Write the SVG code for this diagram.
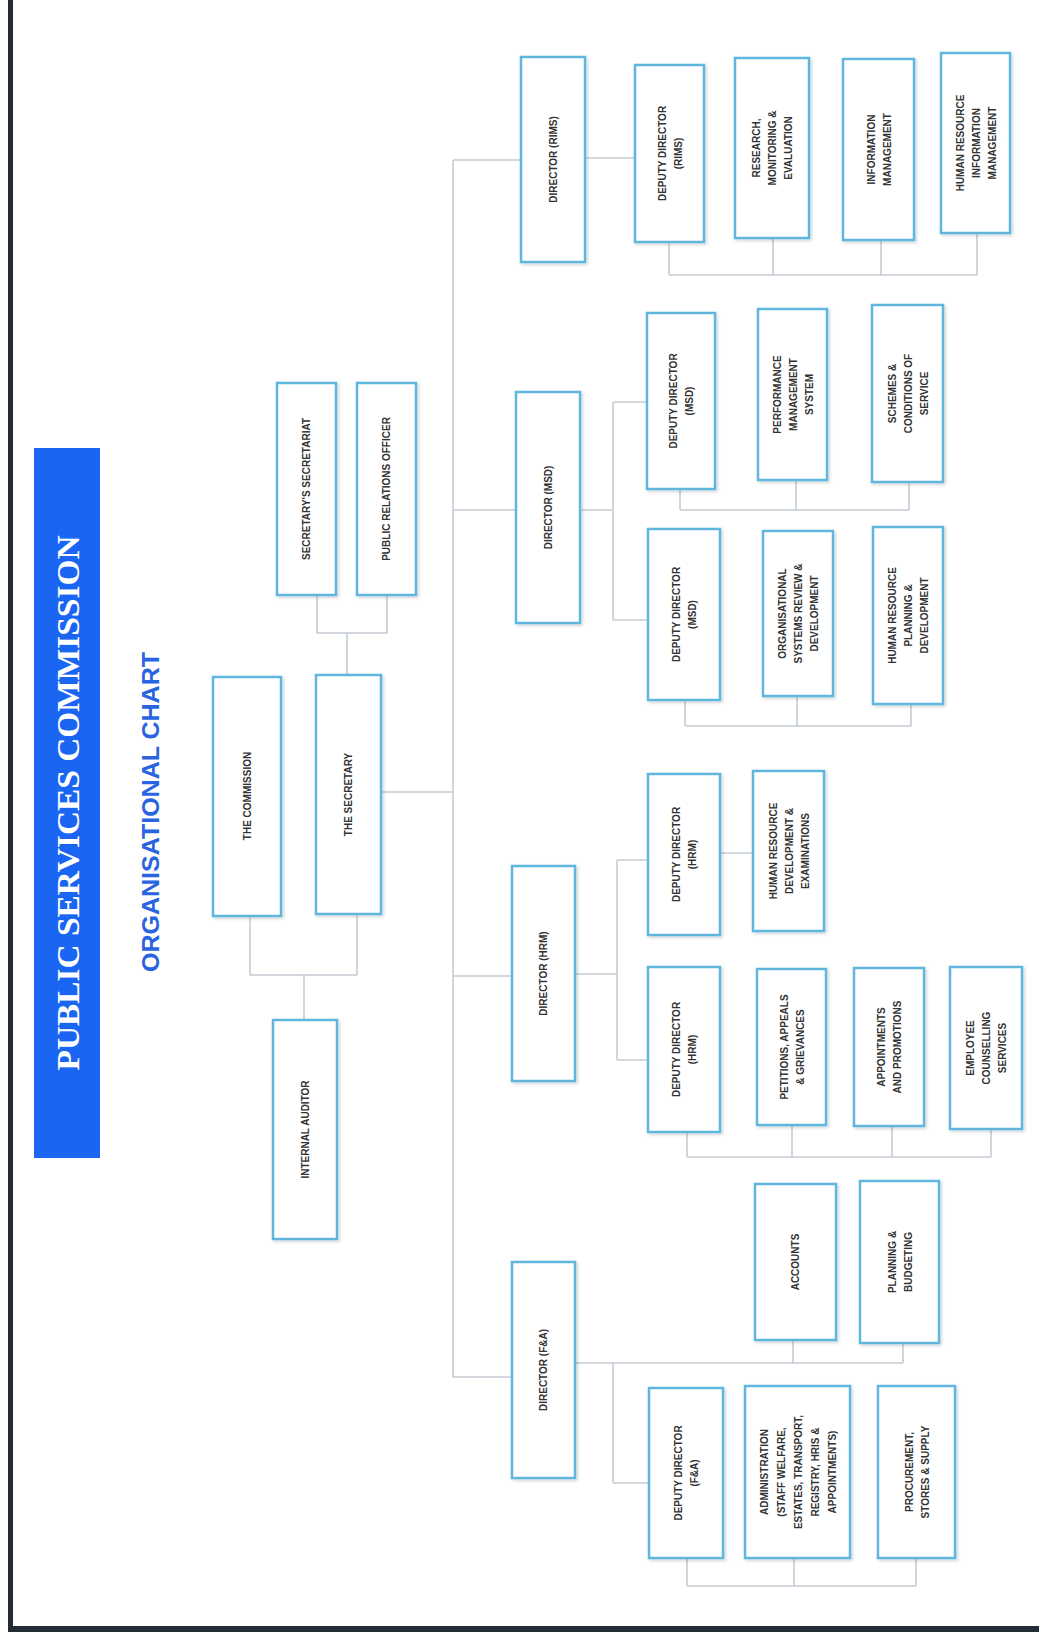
<svg xmlns="http://www.w3.org/2000/svg" width="1039" height="1632" viewBox="0 0 1039 1632">
<style>
.box{fill:#ffffff;stroke:#5fb6de;stroke-width:2.5;filter:url(#sh)}
.lbl{font-family:"Liberation Sans",Arial,sans-serif;font-size:10px;font-weight:bold;fill:#333333;text-anchor:middle;dominant-baseline:central}
.con{fill:none;stroke:#c4ccd4;stroke-width:1.6}
.frame{fill:#222b36}
</style>
<defs>
<filter id="sh" x="-10%" y="-10%" width="130%" height="130%">
<feDropShadow dx="1.5" dy="1.5" stdDeviation="1.5" flood-color="#000" flood-opacity="0.18"/>
</filter>
</defs>
<rect x="0" y="0" width="1039" height="1632" fill="#ffffff"/>
<rect class="frame" x="8" y="0" width="5" height="1632"/>
<rect class="frame" x="8" y="1626" width="1031" height="6"/>

<g id="title">
<rect x="34" y="448" width="66" height="710" fill="#1a66f2"/>
<text transform="translate(68,803) rotate(-90)" font-family="Liberation Serif,serif" font-weight="bold" font-size="32" fill="#ffffff" text-anchor="middle" dominant-baseline="central" textLength="535" lengthAdjust="spacingAndGlyphs">PUBLIC SERVICES COMMISSION</text>
</g>
<g id="subtitle">
<text transform="translate(150,812) rotate(-90)" font-family="Liberation Sans,Arial,sans-serif" font-weight="bold" font-size="24" fill="#2a64e0" text-anchor="middle" dominant-baseline="central" textLength="320" lengthAdjust="spacingAndGlyphs">ORGANISATIONAL CHART</text>
</g>

<g id="connectors">
<path class="con" d="M317 595V633M387 595V633M317 633H387M347 633V675"/>
<path class="con" d="M250 916V975M357 914V975M250 975H357M304 975V1020"/>
<path class="con" d="M381 792H453M453 160V1377"/>
<path class="con" d="M453 160H521M585 158H635"/>
<path class="con" d="M669 242V275M773 238V275M881 240V275M977 233V275M669 275H977"/>
<path class="con" d="M453 510H516M580 510H613M613 402V620M613 402H647M613 620H648"/>
<path class="con" d="M680 489V510M796 480V510M909 482V510M680 510H909"/>
<path class="con" d="M685 700V726M797 696V726M911 704V726M685 726H911"/>
<path class="con" d="M453 976H512M575 974H617M617 860V1060M617 860H648M617 1060H648M720 853H753"/>
<path class="con" d="M687 1132V1157M792 1125V1157M892 1126V1157M991 1129V1157M687 1157H991"/>
<path class="con" d="M453 1377H512M575 1363H903M793 1340V1363M903 1343V1363M613 1363V1483M613 1483H649"/>
<path class="con" d="M687 1558V1586M794 1558V1586M916 1558V1586M687 1586H916"/>
</g>

<g id="commission"><rect class="box" x="213" y="677" width="68" height="239"/>
<text class="lbl" transform="translate(247,796) rotate(-90)">THE COMMISSION</text></g>
<g id="secretary"><rect class="box" x="316" y="675" width="65" height="239"/>
<text class="lbl" transform="translate(348.5,794.5) rotate(-90)">THE SECRETARY</text></g>
<g id="auditor"><rect class="box" x="273" y="1020" width="64" height="219"/>
<text class="lbl" transform="translate(305,1129.5) rotate(-90)">INTERNAL AUDITOR</text></g>
<g id="secretariat"><rect class="box" x="277" y="383" width="59" height="212"/>
<text class="lbl" font-size="9.5" transform="translate(306.5,489) rotate(-90)">SECRETARY'S SECRETARIAT</text></g>
<g id="pro"><rect class="box" x="357" y="383" width="59" height="212"/>
<text class="lbl" font-size="9.5" transform="translate(386.5,489) rotate(-90)">PUBLIC RELATIONS OFFICER</text></g>

<g id="dir-rims"><rect class="box" x="521" y="57" width="64" height="205"/>
<text class="lbl" transform="translate(553,159.5) rotate(-90)">DIRECTOR (RIMS)</text></g>
<g id="dd-rims"><rect class="box" x="635" y="65" width="69" height="177"/>
<text class="lbl" transform="translate(669.5,153.5) rotate(-90)"><tspan x="0" y="-8">DEPUTY DIRECTOR</tspan><tspan x="0" y="8">(RIMS)</tspan></text></g>
<g id="research"><rect class="box" x="735" y="58" width="74" height="180"/>
<text class="lbl" transform="translate(772,148) rotate(-90)"><tspan x="0" y="-16">RESEARCH,</tspan><tspan x="0" y="0">MONITORING &amp;</tspan><tspan x="0" y="16">EVALUATION</tspan></text></g>
<g id="info-mgmt"><rect class="box" x="843" y="59" width="71" height="181"/>
<text class="lbl" transform="translate(878.5,149.5) rotate(-90)"><tspan x="0" y="-8">INFORMATION</tspan><tspan x="0" y="8">MANAGEMENT</tspan></text></g>
<g id="hrim"><rect class="box" x="941" y="53" width="69" height="180"/>
<text class="lbl" transform="translate(975.5,143) rotate(-90)"><tspan x="0" y="-16">HUMAN RESOURCE</tspan><tspan x="0" y="0">INFORMATION</tspan><tspan x="0" y="16">MANAGEMENT</tspan></text></g>

<g id="dir-msd"><rect class="box" x="516" y="392" width="64" height="231"/>
<text class="lbl" transform="translate(548,507.5) rotate(-90)">DIRECTOR (MSD)</text></g>
<g id="dd-msd-1"><rect class="box" x="647" y="313" width="68" height="176"/>
<text class="lbl" transform="translate(681,401) rotate(-90)"><tspan x="0" y="-8">DEPUTY DIRECTOR</tspan><tspan x="0" y="8">(MSD)</tspan></text></g>
<g id="performance"><rect class="box" x="758" y="309" width="69" height="171"/>
<text class="lbl" transform="translate(792.5,394.5) rotate(-90)"><tspan x="0" y="-16">PERFORMANCE</tspan><tspan x="0" y="0">MANAGEMENT</tspan><tspan x="0" y="16">SYSTEM</tspan></text></g>
<g id="schemes"><rect class="box" x="872" y="305" width="71" height="177"/>
<text class="lbl" transform="translate(907.5,393.5) rotate(-90)"><tspan x="0" y="-16">SCHEMES &amp;</tspan><tspan x="0" y="0">CONDITIONS OF</tspan><tspan x="0" y="16">SERVICE</tspan></text></g>
<g id="dd-msd-2"><rect class="box" x="648" y="529" width="72" height="171"/>
<text class="lbl" transform="translate(684,614.5) rotate(-90)"><tspan x="0" y="-8">DEPUTY DIRECTOR</tspan><tspan x="0" y="8">(MSD)</tspan></text></g>
<g id="osrd"><rect class="box" x="763" y="531" width="70" height="165"/>
<text class="lbl" transform="translate(798,613.5) rotate(-90)"><tspan x="0" y="-16">ORGANISATIONAL</tspan><tspan x="0" y="0">SYSTEMS REVIEW &amp;</tspan><tspan x="0" y="16">DEVELOPMENT</tspan></text></g>
<g id="hrpd"><rect class="box" x="873" y="527" width="70" height="177"/>
<text class="lbl" transform="translate(908,615.5) rotate(-90)"><tspan x="0" y="-16">HUMAN RESOURCE</tspan><tspan x="0" y="0">PLANNING &amp;</tspan><tspan x="0" y="16">DEVELOPMENT</tspan></text></g>

<g id="dir-hrm"><rect class="box" x="512" y="866" width="63" height="215"/>
<text class="lbl" transform="translate(543.5,973.5) rotate(-90)">DIRECTOR (HRM)</text></g>
<g id="dd-hrm-1"><rect class="box" x="648" y="774" width="72" height="161"/>
<text class="lbl" transform="translate(684,854.5) rotate(-90)"><tspan x="0" y="-8">DEPUTY DIRECTOR</tspan><tspan x="0" y="8">(HRM)</tspan></text></g>
<g id="hrde"><rect class="box" x="753" y="771" width="71" height="160"/>
<text class="lbl" transform="translate(788.5,851) rotate(-90)"><tspan x="0" y="-16">HUMAN RESOURCE</tspan><tspan x="0" y="0">DEVELOPMENT &amp;</tspan><tspan x="0" y="16">EXAMINATIONS</tspan></text></g>
<g id="dd-hrm-2"><rect class="box" x="648" y="967" width="72" height="165"/>
<text class="lbl" transform="translate(684,1049.5) rotate(-90)"><tspan x="0" y="-8">DEPUTY DIRECTOR</tspan><tspan x="0" y="8">(HRM)</tspan></text></g>
<g id="petitions"><rect class="box" x="757" y="969" width="69" height="156"/>
<text class="lbl" transform="translate(791.5,1047) rotate(-90)"><tspan x="0" y="-8">PETITIONS, APPEALS</tspan><tspan x="0" y="8">&amp; GRIEVANCES</tspan></text></g>
<g id="appointments"><rect class="box" x="854" y="968" width="70" height="158"/>
<text class="lbl" transform="translate(889,1047) rotate(-90)"><tspan x="0" y="-8">APPOINTMENTS</tspan><tspan x="0" y="8">AND PROMOTIONS</tspan></text></g>
<g id="counselling"><rect class="box" x="950" y="967" width="72" height="162"/>
<text class="lbl" transform="translate(986,1048) rotate(-90)"><tspan x="0" y="-16">EMPLOYEE</tspan><tspan x="0" y="0">COUNSELLING</tspan><tspan x="0" y="16">SERVICES</tspan></text></g>

<g id="dir-fa"><rect class="box" x="512" y="1262" width="63" height="216"/>
<text class="lbl" transform="translate(543.5,1370) rotate(-90)">DIRECTOR (F&amp;A)</text></g>
<g id="accounts"><rect class="box" x="755" y="1184" width="81" height="156"/>
<text class="lbl" transform="translate(795.5,1262) rotate(-90)">ACCOUNTS</text></g>
<g id="planning"><rect class="box" x="860" y="1181" width="79" height="162"/>
<text class="lbl" transform="translate(899.5,1262) rotate(-90)"><tspan x="0" y="-8">PLANNING &amp;</tspan><tspan x="0" y="8">BUDGETING</tspan></text></g>
<g id="dd-fa"><rect class="box" x="649" y="1388" width="74" height="170"/>
<text class="lbl" transform="translate(686,1473) rotate(-90)"><tspan x="0" y="-8">DEPUTY DIRECTOR</tspan><tspan x="0" y="8">(F&amp;A)</tspan></text></g>
<g id="administration"><rect class="box" x="745" y="1386" width="105" height="172"/>
<text class="lbl" transform="translate(797.5,1472) rotate(-90)"><tspan x="0" y="-34">ADMINISTRATION</tspan><tspan x="0" y="-17">(STAFF WELFARE,</tspan><tspan x="0" y="0">ESTATES, TRANSPORT,</tspan><tspan x="0" y="17">REGISTRY, HRIS &amp;</tspan><tspan x="0" y="34">APPOINTMENTS)</tspan></text></g>
<g id="procurement"><rect class="box" x="878" y="1386" width="77" height="172"/>
<text class="lbl" transform="translate(916.5,1472) rotate(-90)"><tspan x="0" y="-8">PROCUREMENT,</tspan><tspan x="0" y="8">STORES &amp; SUPPLY</tspan></text></g>
</svg>
